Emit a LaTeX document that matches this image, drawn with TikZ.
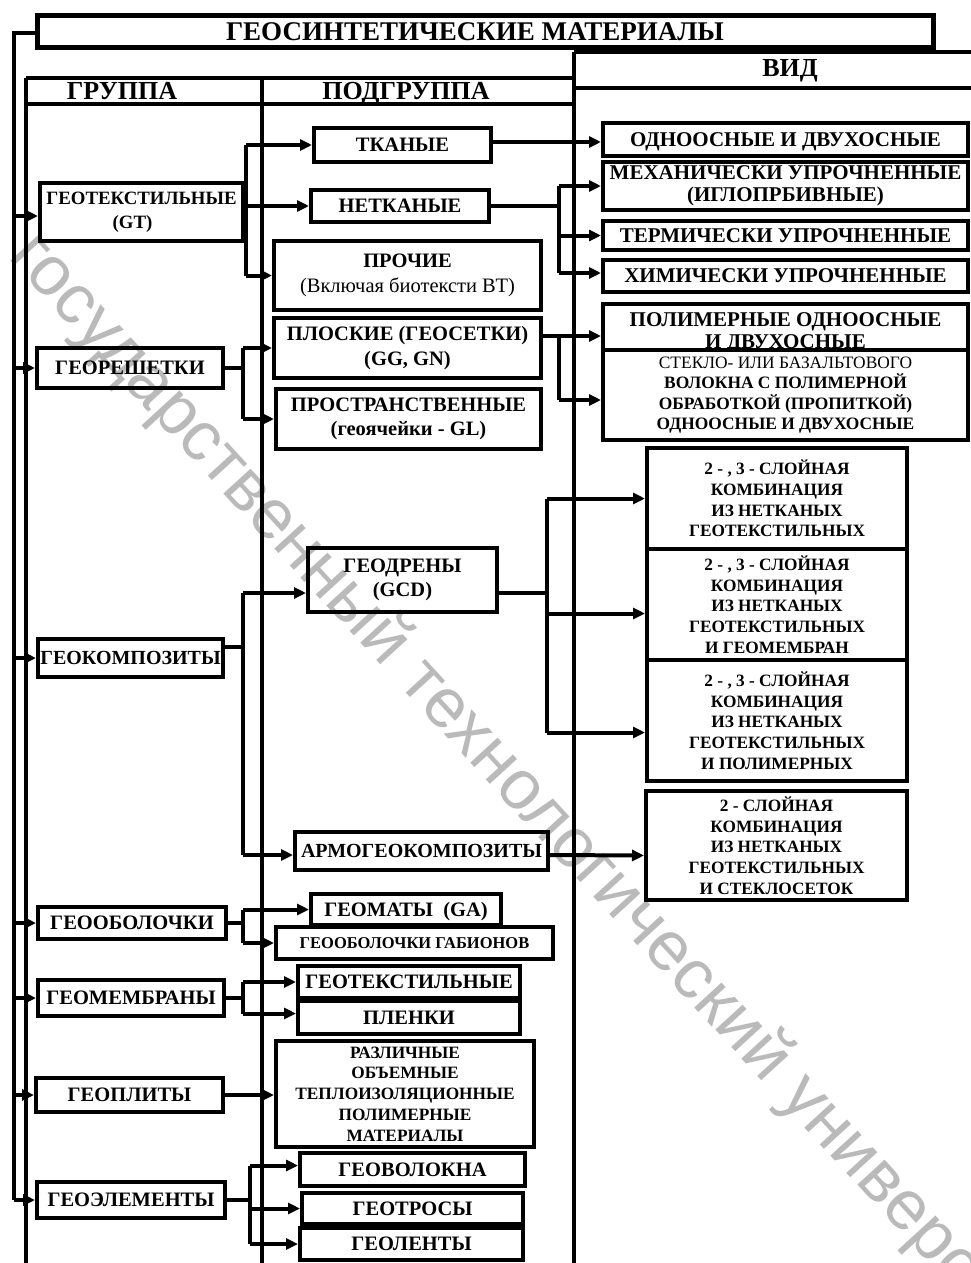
\documentclass[tikz,border=0pt]{standalone}
\usepackage{fontspec}
\setmainfont{Liberation Serif}
\newfontfamily\wmfont{Liberation Sans}
\usetikzlibrary{arrows.meta}
\newcommand\fs[2]{\fontsize{#1}{#2}\selectfont}
% [style]{name}{left}{top}{right}{bottom}{text}
\newcommand\mkbox[7][]{\node[box,minimum width={#5pt-#3pt},minimum height={#6pt-#4pt},#1] (#2) at ({(#3+#5)/2},{(#4+#6)/2}) {#7};}
\begin{document}
\begin{tikzpicture}[x=1pt,y=-1pt,
  box/.style={draw, fill=white, line width=4pt, inner sep=0pt, align=center, font=\bfseries\fs{20.5}{24.5}},
  one/.style={text height=13.8pt, text depth=0pt},
  hdr/.style={inner sep=0pt, anchor=base, font=\bfseries\fs{26}{28}},
  ln/.style={line width=4pt},
  tl/.style={line width=3.5pt},
  arr/.style={line width=4pt, -{Triangle[length=12pt,width=11pt]}},
  vidA/.style={font=\bfseries\fs{21}{22}},
  vidB/.style={font=\bfseries\fs{17.3}{20.7}},
  wm/.style={inner sep=0pt, text=black, text opacity=0.27, font=\wmfont\fs{70}{72}, rotate=-47.5, anchor=base west}
]
\useasboundingbox (0,0) rectangle (971,1263);
\clip (0,0) rectangle (971,1263);
\fill[white] (0,0) rectangle (971,1263);

% ---- table frame ----
\draw[tl] (26,78) -- (26,1270);
\draw[tl] (262,78) -- (262,1270);
\draw[tl] (574,52) -- (574,1270);
\draw[tl] (26,78) -- (574,78);
\draw[tl] (26,104) -- (574,104);
\draw[tl] (574,52) -- (975,52);
\draw[tl] (574,88) -- (975,88);
\node[hdr] (hg) at (122,99.5) {ГРУППА};
\node[hdr] (hp) at (406,99.5) {ПОДГРУППА};
\node[hdr] (hv) at (790,77) {ВИД};

% ---- title ----
\mkbox[font=\bfseries\fs{27}{28}, line width=5pt, text height=17.8pt, text depth=0pt]{title}{37}{16}{933}{48}{ГЕОСИНТЕТИЧЕСКИЕ МАТЕРИАЛЫ\hspace*{20pt}}

% ---- group column ----
\mkbox[font=\bfseries\fs{18.8}{24}]{g1}{40}{183}{243}{241}{ГЕОТЕКСТИЛЬНЫЕ\\(GT)\hspace*{18pt}}
\mkbox[one]{g2}{37}{348}{223}{388}{ГЕОРЕШЕТКИ}
\mkbox[one,font=\bfseries\fs{20}{24}]{g3}{38}{639}{223}{677}{ГЕОКОМПОЗИТЫ}
\mkbox[one]{g4}{38}{907}{226}{939}{ГЕООБОЛОЧКИ}
\mkbox[one]{g5}{38}{980}{224}{1016}{ГЕОМЕМБРАНЫ}
\mkbox[one]{g6}{36}{1078}{223}{1112}{ГЕОПЛИТЫ}
\mkbox[one]{g7}{37}{1182}{225}{1218}{ГЕОЭЛЕМЕНТЫ}

% ---- subgroup column ----
\mkbox[one]{s1}{314}{128}{491}{162}{ТКАНЫЕ}
\mkbox[one]{s2}{311}{190}{489}{222}{НЕТКАНЫЕ}
\mkbox{s3}{274}{241}{541}{310}{ПРОЧИЕ\\{\mdseries (Включая биотексти ВТ)}}
\mkbox{s4}{274}{318}{541}{378}{ПЛОСКИЕ (ГЕОСЕТКИ)\\(GG, GN)}
\mkbox{s5}{276}{389}{541}{449}{ПРОСТРАНСТВЕННЫЕ\\(геоячейки - GL)}
\mkbox{s6}{308}{548}{497}{612}{ГЕОДРЕНЫ\\(GCD)}
\mkbox[one,font=\bfseries\fs{20}{24}]{s7}{295}{832}{548}{870}{АРМОГЕОКОМПОЗИТЫ}
\mkbox[one]{s8}{311}{894}{501}{925}{ГЕОМАТЫ\ \ (GA)}
\mkbox[font=\bfseries\fs{16.5}{18}, text height=11pt, text depth=0pt]{s9}{276}{927}{553}{959}{ГЕООБОЛОЧКИ ГАБИОНОВ}
\mkbox[one]{s10}{298}{966}{520}{998}{ГЕОТЕКСТИЛЬНЫЕ}
\mkbox[one]{s11}{298}{1001}{520}{1034}{ПЛЕНКИ}
\mkbox[font=\bfseries\fs{17.3}{20.7}]{s12}{276}{1041}{534}{1147}{РАЗЛИЧНЫЕ\\ОБЪЕМНЫЕ\\ТЕПЛОИЗОЛЯЦИОННЫЕ\\ПОЛИМЕРНЫЕ\\МАТЕРИАЛЫ}
\mkbox[one]{s13}{300}{1153}{525}{1186}{ГЕОВОЛОКНА}
\mkbox[one]{s14}{302}{1193}{523}{1224}{ГЕОТРОСЫ}
\mkbox[one]{s15}{300}{1228}{523}{1260}{ГЕОЛЕНТЫ}

% ---- vid column ----
\mkbox[vidA,one]{v1}{603}{123}{968}{156}{ОДНООСНЫЕ И ДВУХОСНЫЕ}
\mkbox[vidA]{v2}{603}{162}{968}{210}{МЕХАНИЧЕСКИ УПРОЧНЕННЫЕ\\(ИГЛОПРБИВНЫЕ)}
\mkbox[vidA,one]{v3}{603}{221}{968}{250}{ТЕРМИЧЕСКИ УПРОЧНЕННЫЕ}
\mkbox[vidA,one]{v4}{603}{260}{968}{292}{ХИМИЧЕСКИ УПРОЧНЕННЫЕ}
\mkbox[vidA]{v5}{603}{304}{968}{350}{}
\node[vidA, align=center, inner sep=0pt] (v5t) at (785.5,333) {\fs{21}{18.5}ПОЛИМЕРНЫЕ ОДНООСНЫЕ\\И ДВУХОСНЫЕ};
\mkbox[font=\bfseries\fs{17.4}{20.3}]{v6}{603}{350}{968}{440}{{\mdseries СТЕКЛО- ИЛИ БАЗАЛЬТОВОГО}\\ВОЛОКНА С ПОЛИМЕРНОЙ\\ОБРАБОТКОЙ (ПРОПИТКОЙ)\\ОДНООСНЫЕ И ДВУХОСНЫЕ}
\mkbox[vidB]{v7}{647}{448}{907}{549}{2 - , 3 - СЛОЙНАЯ\\КОМБИНАЦИЯ\\ИЗ НЕТКАНЫХ\\ГЕОТЕКСТИЛЬНЫХ}
\mkbox[vidB]{v8}{647}{549}{907}{660}{2 - , 3 - СЛОЙНАЯ\\КОМБИНАЦИЯ\\ИЗ НЕТКАНЫХ\\ГЕОТЕКСТИЛЬНЫХ\\И ГЕОМЕМБРАН}
\mkbox[vidB]{v9}{647}{660}{907}{781}{2 - , 3 - СЛОЙНАЯ\\КОМБИНАЦИЯ\\ИЗ НЕТКАНЫХ\\ГЕОТЕКСТИЛЬНЫХ\\И ПОЛИМЕРНЫХ}
\mkbox[vidB]{v10}{646}{791}{907}{900}{2 - СЛОЙНАЯ\\КОМБИНАЦИЯ\\ИЗ НЕТКАНЫХ\\ГЕОТЕКСТИЛЬНЫХ\\И СТЕКЛОСЕТОК}

% ---- shifted connection points ----
\coordinate (g1w) at ([yshift=-4pt]g1.west);
\coordinate (g3e) at ([yshift=11pt]g3.east);
\coordinate (s6w) at ([yshift=-13pt]s6.west);
\coordinate (s7w) at ([yshift=-4pt]s7.west);
\coordinate (s11w) at ([yshift=4pt]s11.west);
\coordinate (s13w) at ([yshift=4pt]s13.west);
\coordinate (s1e) at ([yshift=3pt]s1.east);
\coordinate (v1w) at ([yshift=-2.5pt]v1.west);
\coordinate (v4w) at ([yshift=3pt]v4.west);
\coordinate (s4e) at ([yshift=12pt]s4.east);
\coordinate (v5w) at ([yshift=-9pt]v5.west);
\coordinate (v6w) at ([yshift=-5pt]v6.west);
\coordinate (s6e) at ([yshift=-13pt]s6.east);
\coordinate (v8w) at ([yshift=-9pt]v8.west);
\coordinate (v9w) at ([yshift=-12pt]v9.west);
\coordinate (s7e) at ([yshift=-4pt]s7.east);
\coordinate (v10w) at ([yshift=-10pt]v10.west);

% ---- left bus: title -> groups ----
\coordinate (busL) at (14,33);
\draw[ln] (title.west |- busL) -- (busL) -- (busL |- g7.west);
\draw[arr] (busL |- g1w) -- (g1w);
\foreach \g in {g2,g3,g4,g5,g6,g7}
  \draw[arr] (busL |- \g.west) -- (\g.west);

% ---- groups -> subgroups ----
\coordinate (bA) at (246,0);
\draw[ln] (g1.east) -- (bA |- g1.east);
\draw[ln] (bA |- s1.west) -- (bA |- s3.west);
\foreach \s in {s1,s2,s3} \draw[arr] (bA |- \s.west) -- (\s.west);

\coordinate (bB) at (243,0);
\draw[ln] (g2.east) -- (bB |- g2.east);
\draw[ln] (bB |- s4.west) -- (bB |- s5.west);
\foreach \s in {s4,s5} \draw[arr] (bB |- \s.west) -- (\s.west);

\draw[ln] (g3e) -- (bB |- g3e);
\draw[ln] (bB |- s6w) -- (bB |- s7w);
\draw[arr] (bB |- s6w) -- (s6w);
\draw[arr] (bB |- s7w) -- (s7w);

\draw[ln] (g4.east) -- (bB |- g4.east);
\draw[ln] (bB |- s8.west) -- (bB |- s9.west);
\foreach \s in {s8,s9} \draw[arr] (bB |- \s.west) -- (\s.west);

\draw[ln] (g5.east) -- (bB |- g5.east);
\draw[ln] (bB |- s10.west) -- (bB |- s11w);
\draw[arr] (bB |- s10.west) -- (s10.west);
\draw[arr] (bB |- s11w) -- (s11w);

\draw[arr] (g6.east) -- (s12.west |- g6.east);

\coordinate (bC) at (250,0);
\draw[ln] (g7.east) -- (bC |- g7.east);
\draw[ln] (bC |- s13w) -- (bC |- s15.west);
\draw[arr] (bC |- s13w) -- (s13w);
\draw[arr] (bC |- s14.west) -- (s14.west);
\draw[arr] (bC |- s15.west) -- (s15.west);

% ---- subgroups -> vid ----
\draw[arr] (s1e) -- (v1w);

\coordinate (bD) at (559,0);
\draw[ln] (s2.east) -- (bD |- s2.east);
\draw[ln] (bD |- v2.west) -- (bD |- v4w);
\draw[arr] (bD |- v2.west) -- (v2.west);
\draw[arr] (bD |- v3.west) -- (v3.west);
\draw[arr] (bD |- v4w) -- (v4w);

\draw[arr] (s4e) -- (v5w);
\draw[ln] (bD |- s4e) -- (bD |- v6w);
\draw[arr] (bD |- v6w) -- (v6w);

\coordinate (bE) at (547,0);
\draw[ln] (s6e) -- (bE |- s6e);
\draw[ln] (bE |- v7.west) -- (bE |- v9w);
\draw[arr] (bE |- v7.west) -- (v7.west);
\draw[arr] (bE |- v8w) -- (v8w);
\draw[arr] (bE |- v9w) -- (v9w);

\draw[arr] (s7e) -- (v10w);

% ---- watermark ----
\node[wm] (wmark) at (7,257) {государственный технологический университет};
\end{tikzpicture}
\end{document}
